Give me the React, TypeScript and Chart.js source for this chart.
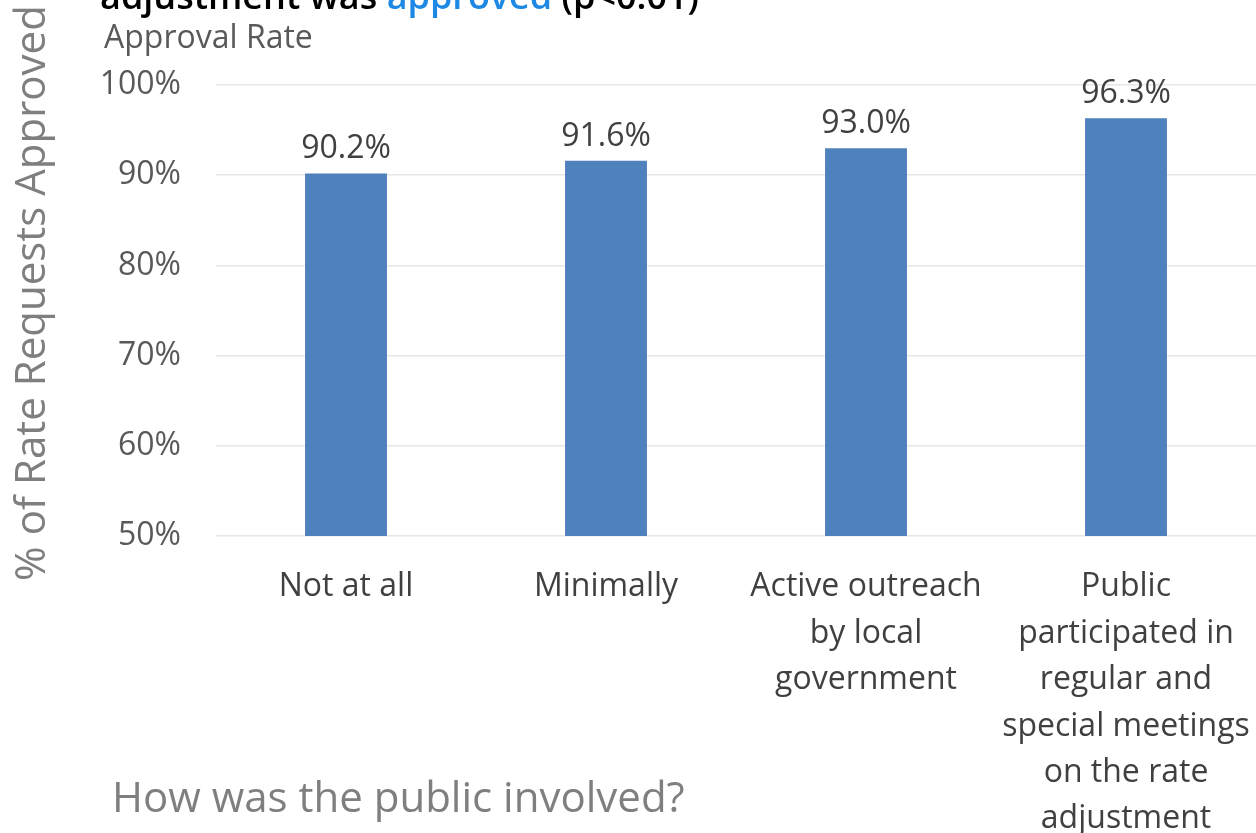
import React, { useEffect, useRef } from "react";
import { Chart, registerables } from "chart.js";

Chart.register(...registerables);

const categories: (string | string[])[] = [
  "Not at all",
  "Minimally",
  ["Active outreach", "by local", "government"],
  ["Public", "participated in", "regular and", "special meetings", "on the rate", "adjustment"],
];
const approvalRates = [90.2, 91.6, 93.0, 96.3];
const yTicks = [50, 60, 70, 80, 90, 100];

const FONT = "'Open Sans', 'Noto Sans', sans-serif";

const extrasPlugin = {
  id: "extras",
  afterDatasetsDraw(chart: any) {
    const ctx = chart.ctx;
    const meta = chart.getDatasetMeta(0);
    ctx.save();
    ctx.font = `32px ${FONT}`;
    ctx.fillStyle = "#404040";
    ctx.textAlign = "center";
    ctx.textBaseline = "alphabetic";
    meta.data.forEach((bar: any, i: number) => {
      ctx.fillText(approvalRates[i].toFixed(1) + "%", bar.x, bar.y - 15);
    });
    ctx.restore();
  },
  afterDraw(chart: any) {
    const ctx = chart.ctx;
    ctx.save();
    // clipped title line
    ctx.textBaseline = "alphabetic";
    ctx.textAlign = "left";
    ctx.font = `600 36px ${FONT}`;
    const parts: [string, string][] = [
      ["adjustment was ", "#000000"],
      ["approved", "#1E88E5"],
      [" (p<0.01)", "#000000"],
    ];
    let x = 100;
    parts.forEach(([t, c]) => {
      ctx.fillStyle = c;
      ctx.fillText(t, x, 9);
      x += ctx.measureText(t).width;
    });
    // subtitle
    ctx.font = `32px ${FONT}`;
    ctx.fillStyle = "#595959";
    ctx.fillText("Approval Rate", 104, 48);
    // bottom caption
    ctx.font = `42px ${FONT}`;
    ctx.fillStyle = "#7f7f7f";
    ctx.textBaseline = "middle";
    ctx.fillText("How was the public involved?", 112, 800);
    // y axis title
    ctx.translate(33, 293);
    ctx.rotate(-Math.PI / 2);
    ctx.textAlign = "center";
    ctx.font = `42px ${FONT}`;
    ctx.fillText("% of Rate Requests Approved", 0, 0);
    ctx.restore();
  },
};

export default function App() {
  const ref = useRef<HTMLCanvasElement>(null);
  useEffect(() => {
    if (!ref.current) return;
    const chart = new Chart(ref.current, {
      type: "bar",
      data: {
        labels: categories,
        datasets: [
          {
            data: approvalRates,
            backgroundColor: "#4F81BD",
            barPercentage: 0.315,
            categoryPercentage: 1,
          },
        ],
      },
      options: {
        animation: false,
        responsive: false,
        maintainAspectRatio: false,
        layout: { padding: { top: 85, left: 0, right: 0, bottom: 0 } },
        plugins: {
          legend: { display: false },
          tooltip: { enabled: false },
        },
        scales: {
          x: {
            grid: { display: false },
            border: { display: false },
            ticks: {
              color: "#404040",
              font: { family: FONT, size: 32, lineHeight: 1.45 },
              padding: 20,
              maxRotation: 0,
              autoSkip: false,
            },
            afterFit: (s: any) => {
              s.height = 297;
              s.paddingLeft = 0;
              s.paddingRight = 0;
            },
          },
          y: {
            min: 50,
            max: 100,
            afterBuildTicks: (s: any) => {
              s.ticks = yTicks.map((v) => ({ value: v }));
            },
            grid: { color: "#e6e6e6", lineWidth: 1.5, drawTicks: false },
            border: { display: false },
            ticks: {
              color: "#595959",
              font: { family: FONT, size: 32 },
              padding: 35,
              callback: (v: any) => v + "%",
            },
            afterFit: (s: any) => {
              s.width = 216;
              s.paddingTop = 0;
              s.paddingBottom = 0;
            },
          },
        },
      },
      plugins: [extrasPlugin],
    });
    return () => chart.destroy();
  }, []);
  return (
    <div style={{ position: "absolute", left: 0, top: 0, width: 1256, height: 833, background: "#fff" }}>
      <canvas ref={ref} width={1256} height={833} style={{ display: "block" }} />
    </div>
  );
}
